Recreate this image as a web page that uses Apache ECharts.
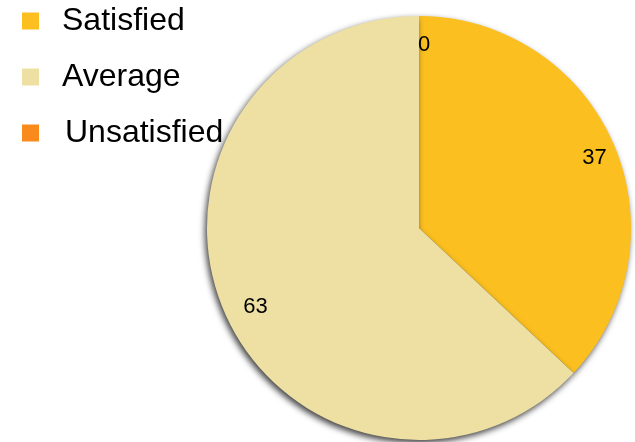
<!DOCTYPE html>
<html>
<head>
<meta charset="utf-8">
<style>
  html, body { margin: 0; padding: 0; background: #ffffff; }
  #chart { width: 635px; height: 442px; }
</style>
<script src="https://cdn.jsdelivr.net/npm/echarts@6/dist/echarts.min.js"></script>
</head>
<body>
<div id="chart"></div>
<script>
// Survey responses
const categories = ['Satisfied', 'Average', 'Unsatisfied'];
const values = [37, 63, 0];
const colors = ['#FBBF1F', '#EEE0A2', '#F98B1C'];

const FONT = '"Liberation Sans", Arial, sans-serif';
const legendTops = [5, 61, 117];
const legendPads = [18, 18, 21];
// nudges for the value labels inside each slice
const labelOffsets = [[3, 5], [9, 4], [5, 5]];

const pieData = categories.map((name, i) => ({
  name: name,
  value: values[i],
  itemStyle: { color: colors[i] }
}));

const chart = echarts.init(document.getElementById('chart'), null, { renderer: 'canvas' });

chart.setOption({
  animation: false,
  backgroundColor: '#ffffff',
  legend: categories.map((name, i) => ({
    data: [name],
    orient: 'vertical',
    left: 22,
    top: legendTops[i],
    padding: 0,
    icon: 'rect',
    itemWidth: 17,
    itemHeight: 17,
    selectedMode: false,
    textStyle: {
      fontFamily: FONT,
      fontSize: 32,
      color: '#000000',
      lineHeight: 17,
      padding: [0, 0, 0, legendPads[i]]
    }
  })),
  series: [
    {
      name: 'Responses',
      type: 'pie',
      center: [419, 228],
      radius: [0, 212],
      startAngle: 90,
      clockwise: true,
      silent: true,
      data: pieData,
      label: { show: false },
      labelLine: { show: false },
      itemStyle: {
        shadowBlur: 6,
        shadowColor: 'rgba(0,0,0,0.75)',
        shadowOffsetX: -2,
        shadowOffsetY: 3
      }
    },
    {
      // transparent ring that only carries the value labels
      name: 'Labels',
      type: 'pie',
      center: [419, 228],
      radius: [158, 212],
      startAngle: 90,
      clockwise: true,
      silent: true,
      z: 3,
      data: categories.map((name, i) => ({
        name: name,
        value: values[i],
        label: { offset: labelOffsets[i] }
      })),
      itemStyle: { color: 'rgba(0,0,0,0)' },
      label: {
        show: true,
        position: 'inside',
        formatter: '{c}',
        fontFamily: FONT,
        fontSize: 22,
        color: '#000000'
      },
      labelLine: { show: false },
      legendHoverLink: false
    }
  ]
});
</script>
</body>
</html>
